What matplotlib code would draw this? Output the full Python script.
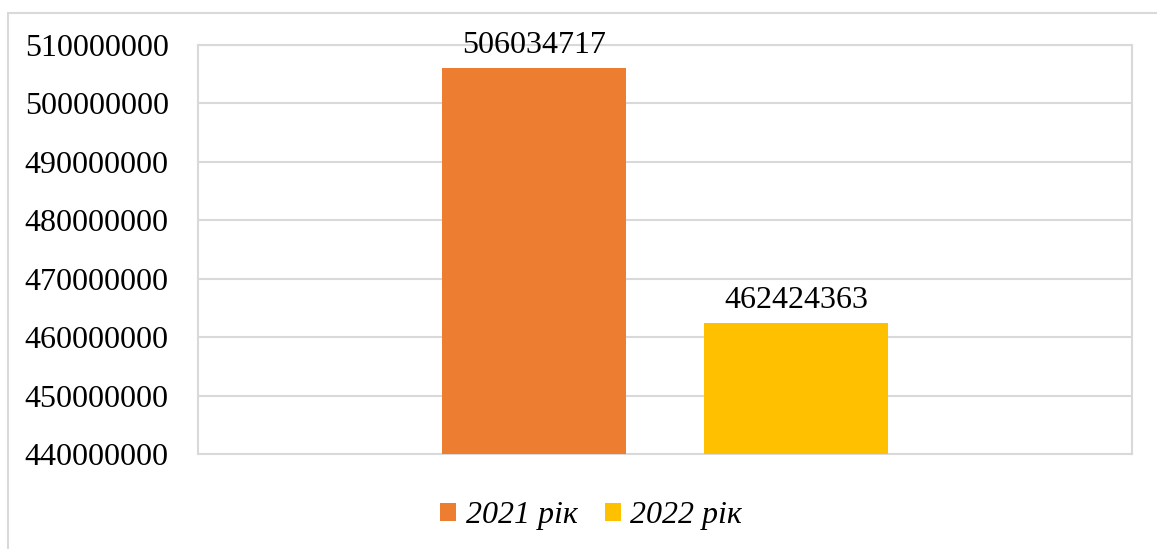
import matplotlib.pyplot as plt
from matplotlib.patches import Rectangle

years = ["2021 рік", "2022 рік"]
values = [506034717, 462424363]
colors = ["#ED7D31", "#FFC000"]
yticks = list(range(440000000, 510000001, 10000000))

plt.rcParams['font.family'] = ['Liberation Serif', 'DejaVu Serif']

fig = plt.figure(figsize=(11.57, 5.49), dpi=100)
ax = fig.add_axes([198/1157, 1 - 454/549, (1132 - 198)/1157, (454 - 45)/549])

# outer chart frame (cropped in the reference)
fig.patches.append(Rectangle((8/1157, -0.1), 1.2, 1 - 13/549 + 0.1,
                             transform=fig.transFigure, fill=False,
                             edgecolor="#D9D9D9", linewidth=1.5))

width = 184/934
offsets = [-131/934, 131/934]
for i in range(len(years)):
    b = ax.bar(offsets[i], values[i], width=width, color=colors[i], label=years[i], zorder=3)
    ax.bar_label(b, labels=[str(values[i])], padding=6, fontsize=23)

ax.set_xlim(-0.5, 0.5)
ax.set_ylim(440000000, 510000000)
ax.set_yticks(yticks)
ax.set_yticklabels([str(t) for t in yticks])
ax.set_xticks([])
ax.tick_params(axis='y', length=0, pad=21, labelsize=23)
ax.grid(axis='y', color="#D9D9D9", linewidth=1.5, zorder=0)
for s in ax.spines.values():
    s.set_color("#D9D9D9")
    s.set_linewidth(1.5)

fig.legend(loc="center", bbox_to_anchor=(591/1157, 1 - 516/549), ncol=2, frameon=False,
           prop={'style': 'italic', 'size': 23}, handlelength=0.5, handleheight=0.5,
           handletextpad=0.3, columnspacing=0.85)

fig.savefig("out.png", dpi=100)
